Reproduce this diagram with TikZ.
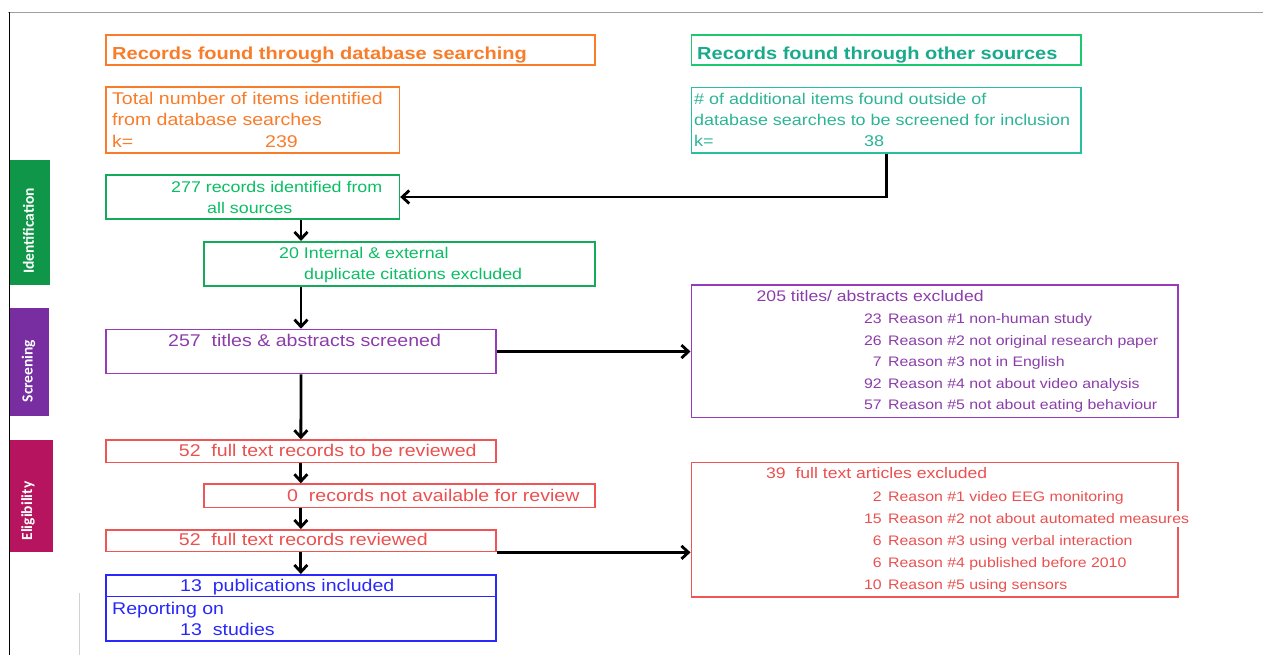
\documentclass[tikz,border=0pt]{standalone}
\usepackage{fontspec}
\setmainfont{Liberation Sans}[FakeStretch=1.15]
\newfontfamily\sidefont{Carlito}
\usetikzlibrary{arrows.meta,positioning}

\definecolor{orng}{RGB}{248,124,42}
\definecolor{hdgreen}{RGB}{30,200,110}
\definecolor{hdteal}{RGB}{25,170,140}
\definecolor{tealb}{RGB}{40,190,160}
\definecolor{tealt}{RGB}{45,180,150}
\definecolor{grnb}{RGB}{20,170,90}
\definecolor{grnt}{RGB}{10,190,100}
\definecolor{purb}{RGB}{150,60,185}
\definecolor{purt}{RGB}{140,60,170}
\definecolor{salb}{RGB}{240,85,85}
\definecolor{salt}{RGB}{235,80,80}
\definecolor{incblue}{RGB}{40,40,250}
\definecolor{idgreen}{RGB}{16,150,72}
\definecolor{scrpurple}{RGB}{120,45,160}
\definecolor{elimag}{RGB}{183,20,95}

\newcommand{\fsz}[1]{\fontsize{#1}{#1}\selectfont}

\begin{document}
\begin{tikzpicture}[x=1pt,y=-1pt,
  box/.style={draw=#1, line width=1.7pt, anchor=north west, inner sep=0pt},
  txt/.style={anchor=base west, inner sep=0pt},
  sidebar/.style={fill=#1, anchor=north west, inner sep=0pt},
  sidetxt/.style={rotate=90, text=white, font=\sidefont\bfseries\fsz{15.5}},
  arr/.style={line width=2.8pt, -{Straight Barb[length=7pt,width=13pt]}}]
\useasboundingbox (0,0) rectangle (1263,655);

% frame
\draw[gray!75, line width=1.5pt] (8,12.5) -- (1263,12.5);
\draw[black, line width=1pt] (9.3,12.5) -- (9.3,655);
\draw[gray!35, line width=1pt] (79,593) -- (79,655);

% phase bars
\node[sidebar=idgreen, minimum width=40.7pt, minimum height=124.3pt] (ident) at (9.3,160) {};
\node[sidebar=scrpurple, minimum width=39.7pt, minimum height=108.7pt] (scrn) at (9.3,307.3) {};
\node[sidebar=elimag, minimum width=43.7pt, minimum height=112.4pt] (elig) at (9.3,439.3) {};
\node[sidetxt] (ident-t) at (28.5,231) {Identification};
\node[sidetxt] (scrn-t) at (28.5,371) {Screening};
\node[sidetxt] (elig-t) at (28,511) {Eligibility};

% boxes
\node[box=orng, minimum width=489pt, minimum height=30pt] (dbhead) at (105,34.3) {};
\node[box=hdgreen, minimum width=389.5pt, minimum height=30pt] (othhead) at (690.5,34.3) {};
\node[box=orng, minimum width=293.5pt, minimum height=66.3pt] (dbtot) at (105,86) {};
\node[box=tealb, minimum width=389.5pt, minimum height=65.6pt] (othtot) at (690.5,86.7) {};
\node[box=grnb, minimum width=293.5pt, minimum height=44.3pt] (allrec) at (105,174) {};
\node[box=grnb, minimum width=391pt, minimum height=44pt] (dedup) at (202.8,241) {};
\node[box=purb, minimum width=390.3pt, minimum height=44pt] (screen) at (105,328.7) {};
\node[box=purb, minimum width=486.5pt, minimum height=132.7pt] (absx) at (690.5,284) {};
\node[box=salb, minimum width=390pt, minimum height=22.4pt] (ftr) at (105,439.3) {};
\node[box=salb, minimum width=391pt, minimum height=23.4pt] (nav) at (202.8,483.3) {};
\node[box=salb, minimum width=390pt, minimum height=21.7pt] (rev) at (105,529) {};
\node[box=salb, minimum width=486.5pt, minimum height=134.3pt] (ftx) at (690.5,461.7) {};
\node[box=incblue, minimum width=390pt, minimum height=21.7pt] (incl) at (105,574) {};
\node[box=incblue, minimum width=390pt, minimum height=44.3pt] (stud) at (105,595.7) {};

% texts
\node[txt, text=orng, font=\bfseries\fsz{17.4}] (dbhead-t) at (112,60) {Records found through database searching};
\node[txt, text=hdteal, font=\bfseries\fsz{17.4}] (othhead-t) at (697,60) {Records found through other sources};

\node[txt, text=orng, font=\fsz{17}] (dbtot-a) at (112,104.3) {Total number of items identified};
\node[txt, text=orng, font=\fsz{17}] (dbtot-b) at (112,125.7) {from database searches};
\node[txt, text=orng, font=\fsz{17}] (dbtot-k) at (112,147.5) {k=};
\node[txt, text=orng, font=\fsz{17}] (dbtot-n) at (265,147.5) {239};

\node[txt, text=tealt, font=\fsz{15.6}] (othtot-a) at (694,104.3) {\# of additional items found outside of};
\node[txt, text=tealt, font=\fsz{15.6}] (othtot-b) at (694,125.3) {database searches to be screened for inclusion};
\node[txt, text=tealt, font=\fsz{15.6}] (othtot-k) at (694,146.5) {k=};
\node[txt, text=tealt, font=\fsz{15.6}] (othtot-n) at (864,146.5) {38};

\node[txt, text=grnt, font=\fsz{15.5}] (allrec-a) at (171,192.7) {277 records identified from};
\node[txt, text=grnt, font=\fsz{15.5}] (allrec-b) at (207,213) {all sources};
\node[txt, text=grnt, font=\fsz{15.5}] (dedup-a) at (279,258) {20 Internal \& external};
\node[txt, text=grnt, font=\fsz{15.5}] (dedup-b) at (304,279) {duplicate citations excluded};

\node[txt, text=purt, font=\fsz{17}] (screen-t) at (168,346) {257\ \ titles \& abstracts screened};
\node[txt, text=purt, font=\fsz{15.3}] (absx-t) at (756.5,301.7) {205\ titles/ abstracts excluded};
\foreach \k/\t [count=\i from 0] in {23/{Reason \#1 non-human study},
    26/{Reason \#2 not original research paper}, 7/{Reason \#3 not in English},
    92/{Reason \#4 not about video analysis}, 57/{Reason \#5 not about eating behaviour}}
{
  \node[txt, anchor=base east, text=purt, font=\fsz{13.8}] (absx-n\i) at (882,{323.5+21.6*\i}) {\k};
  \node[txt, text=purt, font=\fsz{13.8}] (absx-r\i) at (888,{323.5+21.6*\i}) {\t};
}

\node[txt, text=salt, font=\fsz{17}] (ftr-t) at (178.7,456.7) {52\ \ full text records to be reviewed};
\node[txt, text=salt, font=\fsz{17}] (nav-t) at (287,501.7) {0\ \ records not available for review};
\node[txt, text=salt, font=\fsz{17}] (rev-t) at (178.7,545.7) {52\ \ full text records reviewed};
\node[txt, text=salt, font=\fsz{15.3}] (ftx-t) at (766,478) {39\ \ full text articles excluded};
\foreach \k/\t [count=\i from 0] in {2/{Reason \#1 video EEG monitoring},
    15/{Reason \#2 not about automated measures}, 6/{Reason \#3 using verbal interaction},
    6/{Reason \#4 published before 2010}, 10/{Reason \#5 using sensors}}
{
  \node[txt, anchor=base east, text=salt, font=\fsz{13.8}] (ftx-n\i) at (882,{501.5+22.1*\i}) {\k};
  \node[txt, text=salt, font=\fsz{13.8}, fill=white, inner ysep=3pt] (ftx-r\i) at (888,{501.5+22.1*\i}) {\t};
}

\node[txt, text=incblue, font=\fsz{17}] (incl-t) at (180,591) {13\ \ publications included};
\node[txt, text=incblue, font=\fsz{17}] (stud-a) at (112,614) {Reporting on};
\node[txt, text=incblue, font=\fsz{17}] (stud-b) at (180,635) {13\ \ studies};

% connectors
\draw[arr] (othtot.south) |- (allrec.east);
\draw[arr] (allrec.south -| screen.north) -- (dedup.north -| screen.north);
\draw[arr] (dedup.south -| screen.north) -- (screen.north);
\draw[arr] (screen.south) -- (ftr.north);
\draw[arr] (ftr.south) -- (nav.north -| ftr.south);
\draw[arr] (nav.south -| ftr.south) -- (rev.north);
\draw[arr] (rev.south) -- (incl.north);
\draw[arr] (screen.east) -- (screen.east -| absx.west);
\draw[arr] (rev.south east) -- (rev.south east -| ftx.west);

\end{tikzpicture}
\end{document}
